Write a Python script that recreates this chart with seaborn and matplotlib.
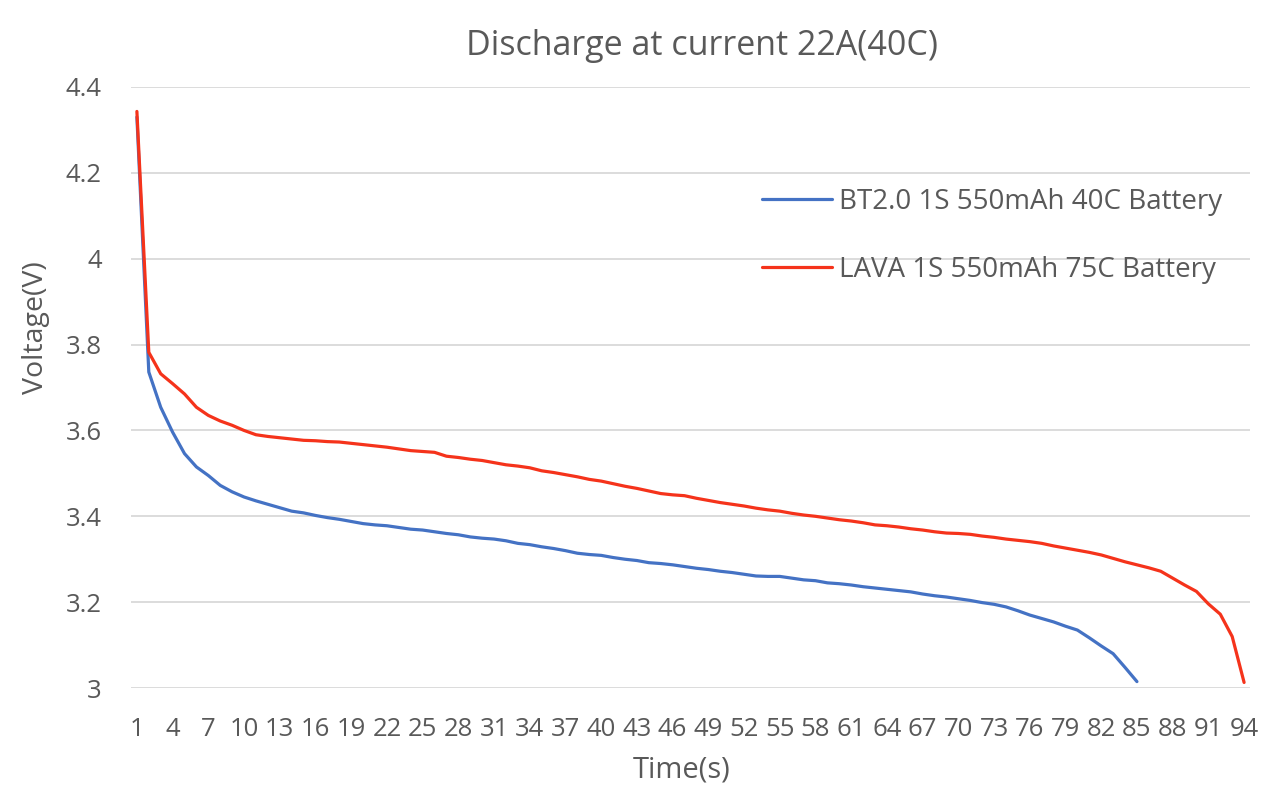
import numpy as np
import pandas as pd
import seaborn as sns
from matplotlib import pyplot as plt

sns.set_theme(style="whitegrid")
plt.rcParams['font.family'] = ['Open Sans', 'DejaVu Sans']

# voltage readings, one per second
bt_volts = [4.330, 3.736, 3.654, 3.596, 3.546, 3.515, 3.495, 3.472, 3.457, 3.445,
            3.436, 3.428, 3.420, 3.412, 3.408, 3.402, 3.397, 3.393, 3.388, 3.383,
            3.380, 3.378, 3.374, 3.370, 3.368, 3.364, 3.360, 3.357, 3.352, 3.349,
            3.347, 3.343, 3.337, 3.334, 3.329, 3.325, 3.320, 3.314, 3.311, 3.309,
            3.304, 3.300, 3.297, 3.292, 3.290, 3.287, 3.283, 3.279, 3.276, 3.272,
            3.269, 3.265, 3.261, 3.260, 3.260, 3.256, 3.252, 3.250, 3.245, 3.243,
            3.240, 3.236, 3.233, 3.230, 3.227, 3.224, 3.219, 3.215, 3.212, 3.208,
            3.204, 3.199, 3.195, 3.189, 3.180, 3.170, 3.162, 3.154, 3.144, 3.135,
            3.117, 3.098, 3.080, 3.048, 3.015]
lava_volts = [4.343, 3.782, 3.732, 3.709, 3.685, 3.654, 3.635, 3.622, 3.612, 3.600,
              3.590, 3.586, 3.583, 3.580, 3.577, 3.576, 3.574, 3.573, 3.570, 3.567,
              3.564, 3.561, 3.557, 3.553, 3.551, 3.549, 3.540, 3.537, 3.533, 3.530,
              3.525, 3.520, 3.517, 3.513, 3.506, 3.502, 3.497, 3.492, 3.486, 3.482,
              3.476, 3.470, 3.465, 3.459, 3.453, 3.450, 3.448, 3.442, 3.437, 3.432,
              3.428, 3.424, 3.419, 3.415, 3.412, 3.407, 3.403, 3.400, 3.396, 3.392,
              3.389, 3.385, 3.380, 3.378, 3.375, 3.371, 3.368, 3.364, 3.361, 3.360,
              3.358, 3.354, 3.351, 3.347, 3.344, 3.341, 3.337, 3.331, 3.326, 3.321,
              3.316, 3.310, 3.302, 3.294, 3.287, 3.280, 3.272, 3.256, 3.240, 3.225,
              3.196, 3.172, 3.120, 3.013]
bt_name = 'BT2.0 1S 550mAh 40C Battery'
lava_name = 'LAVA 1S 550mAh 75C Battery'
x_ticks = list(range(1, 95, 3))
y_ticks = [3, 3.2, 3.4, 3.6, 3.8, 4, 4.2, 4.4]
y_tick_labels = ['3', '3.2', '3.4', '3.6', '3.8', '4', '4.2', '4.4']

df = pd.concat([
    pd.DataFrame({'time': np.arange(1, len(bt_volts) + 1), 'volts': bt_volts, 'battery': bt_name}),
    pd.DataFrame({'time': np.arange(1, len(lava_volts) + 1), 'volts': lava_volts, 'battery': lava_name}),
])

grey = '#595959'
fig = plt.figure(figsize=(12.8, 7.98), dpi=100)
ax = fig.add_axes([0.1023, 0.1378, 0.8743, 0.7532])
sns.lineplot(x='time', y='volts', hue='battery', data=df, ax=ax,
             palette={bt_name: '#4472C4', lava_name: '#F5331B'}, linewidth=2.3)

ax.set_xlim(0.5, 94.5)
ax.set_ylim(3, 4.4)
ax.set_xticks(x_ticks)
ax.set_xticklabels([str(t) for t in x_ticks])
ax.set_yticks(y_ticks)
ax.set_yticklabels(y_tick_labels)
ax.grid(axis='x', visible=False)
ax.grid(axis='y', color='#D9D9D9', linewidth=1.3)
for s in ax.spines.values():
    s.set_visible(False)
ax.tick_params(axis='both', colors=grey, labelsize=18.5, length=0)
ax.tick_params(axis='x', pad=21)
ax.tick_params(axis='y', pad=21)

ax.set_title('Discharge at current 22A(40C)', color=grey, fontsize=24.5, pad=23, x=0.51)
ax.set_xlabel('Time(s)', color=grey, fontsize=21, labelpad=0)
ax.xaxis.set_label_coords(0.492, -0.112)
ax.set_ylabel('Voltage(V)', color=grey, fontsize=20.5)
ax.yaxis.set_label_coords(-0.072, 0.6)

handles, labels = ax.get_legend_handles_labels()
ax.legend(handles, labels, loc='upper left', bbox_to_anchor=(0.564, 0.832),
          borderpad=0, borderaxespad=0, frameon=False, fontsize=20, labelcolor=grey,
          handlelength=2.52, handletextpad=0.25, labelspacing=1.44)

fig.savefig('out.png', dpi=100)
